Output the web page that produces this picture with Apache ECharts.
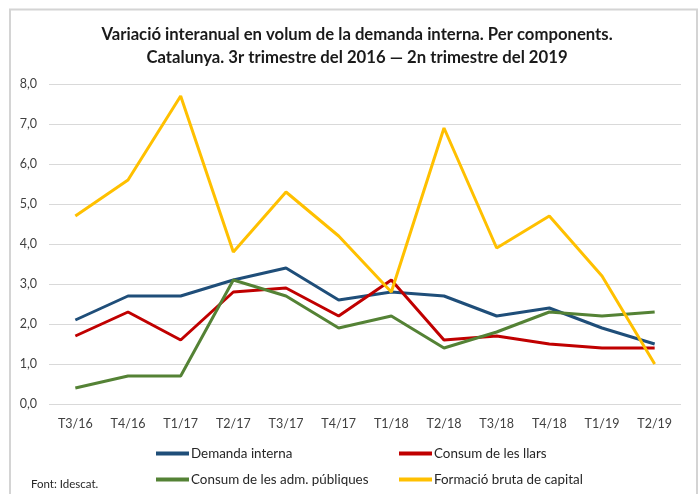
<!DOCTYPE html>
<html><head><meta charset="utf-8">
<script src="https://cdn.jsdelivr.net/npm/echarts@6/dist/echarts.min.js"></script>
<style>html,body{margin:0;padding:0;background:#fff}#c{width:698px;height:494px}</style>
</head><body><div id="c"></div>
<script>
const categories = ['T3/16','T4/16','T1/17','T2/17','T3/17','T4/17','T1/18','T2/18','T3/18','T4/18','T1/19','T2/19'];
const demandaInterna = [2.1, 2.7, 2.7, 3.1, 3.4, 2.6, 2.8, 2.7, 2.2, 2.4, 1.9, 1.5];
const consumLlars = [1.7, 2.3, 1.6, 2.8, 2.9, 2.2, 3.1, 1.6, 1.7, 1.5, 1.4, 1.4];
const consumAdm = [0.4, 0.7, 0.7, 3.1, 2.7, 1.9, 2.2, 1.4, 1.8, 2.3, 2.2, 2.3];
const formacioCapital = [4.7, 5.6, 7.7, 3.8, 5.3, 4.2, 2.8, 6.9, 3.9, 4.7, 3.2, 1.0];
const seriesNames = ['Demanda interna','Consum de les llars','Consum de les adm. públiques','Formació bruta de capital'];
const colors = ['#1F4E79','#C00000','#548235','#FFC000'];
const FONT = 'Lato, "Open Sans", sans-serif';

const chart = echarts.init(document.getElementById('c'));
const dataSets = [demandaInterna, consumLlars, consumAdm, formacioCapital];
const legendPos = [[156,447],[399,447],[156,473],[399,473]];
chart.setOption({
  animation: false,
  textStyle: {fontFamily: FONT},
  title: {
    text: 'Variació interanual en volum de la demanda interna. Per components.\nCatalunya. 3r trimestre del 2016 — 2n trimestre del 2019',
    left: 352, textAlign: 'center', top: 18,
    textStyle: {fontFamily: FONT, fontSize: 16.7, fontWeight: 'bold', color: '#1a1a1a', lineHeight: 23}
  },
  graphic: [
    {type: 'rect', shape: {x: 10, y: 9.5, width: 687, height: 500}, style: {fill: 'none', stroke: '#d4d4d4', lineWidth: 2}, silent: true},
    {type: 'text', left: 31, top: 478, style: {text: 'Font: Idescat.', fontFamily: FONT, fontSize: 11.5, fill: '#262626'}}
  ],
  legend: seriesNames.map((n, i) => ({
    data: [n], left: legendPos[i][0], top: legendPos[i][1], padding: 0,
    itemWidth: 33, itemHeight: 4, itemGap: 0,
    icon: 'rect',
    textStyle: {fontFamily: FONT, fontSize: 13.4, color: '#262626', padding: [0,0,0,-3]}
  })),
  grid: {left: 49, right: 17, top: 84, bottom: 90},
  xAxis: {
    type: 'category', data: categories, boundaryGap: true,
    axisLine: {show: false}, axisTick: {show: false},
    axisLabel: {fontFamily: FONT, fontSize: 12.5, color: '#404040', margin: 13}
  },
  yAxis: {
    type: 'value', min: 0, max: 8, interval: 1,
    axisLabel: {fontFamily: FONT, fontSize: 12.5, color: '#404040', margin: 12,
      formatter: v => v.toFixed(1).replace('.', ',')},
    splitLine: {lineStyle: {color: '#d9d9d9', width: 1}}
  },
  series: seriesNames.map((n, i) => ({
    name: n, type: 'line', data: dataSets[i], showSymbol: false, symbol: 'none',
    lineStyle: {color: colors[i], width: 3}, itemStyle: {color: colors[i]}
  }))
});
</script></body></html>
